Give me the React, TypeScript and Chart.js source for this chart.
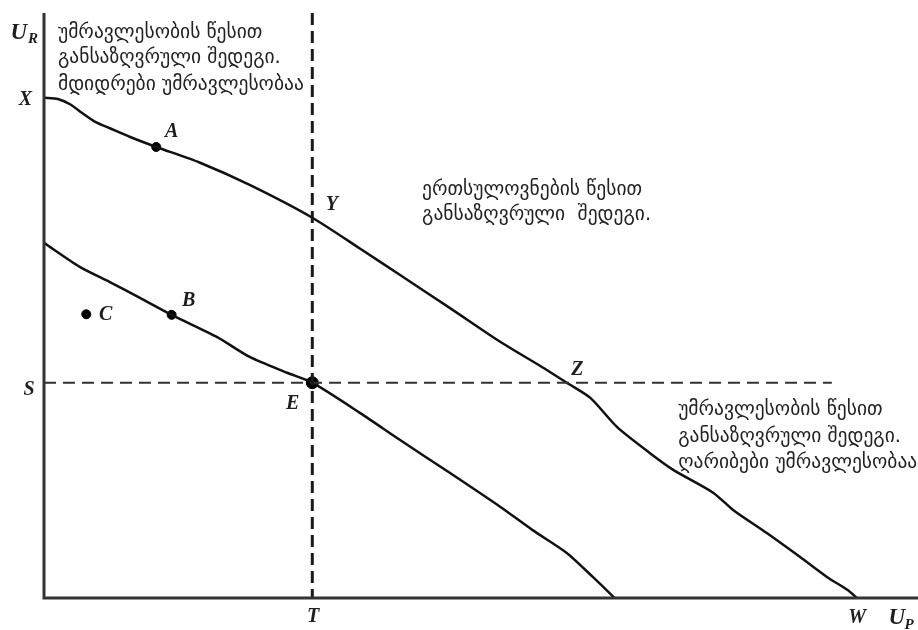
import React, { useEffect, useRef } from "react";
import { Chart, registerables } from "chart.js";

Chart.register(...registerables);

// Upper utility-possibility curve (X – A – Y – Z – W)
const upperX = [0, 1.7, 3.2, 4.7, 6.3, 8.1, 10.6, 13.8, 19.2, 25.3, 33.0, 38.9, 43.8, 49.9, 56.1, 61.0, 64.3, 67.2, 70.5, 74.5, 77.4, 82.3, 84.8, 88.9, 93.0, 96.3, 98.8, 100];
const upperY = [85.5, 85.3, 84.4, 82.9, 81.4, 80.3, 78.8, 77.1, 74.4, 70.6, 65.0, 59.7, 55.2, 49.6, 43.8, 39.7, 36.8, 34.2, 29.2, 24.8, 21.9, 18.0, 15.0, 11.1, 7.0, 3.6, 1.4, 0];

// Lower curve (through B and E)
const lowerX = [0, 4.4, 8.1, 11.8, 15.7, 21.3, 25.3, 29.9, 33.0, 38.9, 43.8, 49.9, 56.1, 60.1, 64.3, 67.5, 70.2];
const lowerY = [60.7, 56.6, 54.0, 51.3, 48.4, 44.6, 41.2, 38.5, 36.8, 31.6, 27.0, 21.4, 15.6, 11.6, 7.7, 3.6, 0];

// Marked points
const pointNames = ["A", "B", "C", "E"];
const pointX = [13.8, 15.7, 5.2, 33.0];
const pointY = [77.1, 48.4, 48.5, 36.8];

// Reference levels
const levelT = 33.0; // U_P of point T / E
const levelS = 36.8; // U_R of point S / E
const axisTop = 100;
const axisRight = 107.5;
const dashRight = 96.9;

// Text
const blockRich = ["უმრავლესობის წესით", "განსაზღვრული შედეგი.", "მდიდრები უმრავლესობაა"];
const blockUnanimity = ["ერთსულოვნების წესით", "განსაზღვრული  შედეგი."];
const blockPoor = ["უმრავლესობის წესით", "განსაზღვრული შედეგი.", "ღარიბები უმრავლესობაა"];

const letterLabels = [
  { t: "X", x: -2.3, y: 85.1 },
  { t: "A", x: 15.7, y: 79.7 },
  { t: "Y", x: 35.4, y: 67.2 },
  { t: "B", x: 17.8, y: 50.8 },
  { t: "C", x: 7.6, y: 48.4 },
  { t: "S", x: -1.85, y: 35.6 },
  { t: "E", x: 30.6, y: 33.2 },
  { t: "Z", x: 65.6, y: 39.0 },
  { t: "T", x: 33.1, y: -3.25 },
  { t: "W", x: 100, y: -3.4 },
];

const textBlocks = [
  { lines: blockRich, x: 1.72, y: [96.6, 92.3, 87.7] },
  { lines: blockUnanimity, x: 46.5, y: [69.7, 65.5] },
  { lines: blockPoor, x: 78.0, y: [32.1, 27.5, 23.1] },
];

const toPts = (xs: number[], ys: number[]) => xs.map((x, i) => ({ x, y: ys[i] }));

const labelPlugin = {
  id: "labels",
  afterDatasetsDraw(chart: any) {
    const { ctx, scales } = chart;
    const px = (v: number) => scales.x.getPixelForValue(v);
    const py = (v: number) => scales.y.getPixelForValue(v);
    ctx.save();
    ctx.fillStyle = "#1e1e1e";
    ctx.textAlign = "center";
    ctx.textBaseline = "middle";
    ctx.font = "italic bold 20px 'Liberation Serif', serif";
    letterLabels.forEach((l) => ctx.fillText(l.t, px(l.x), py(l.y)));
    // axis titles with subscripts
    ctx.font = "italic bold 23px 'Liberation Serif', serif";
    ctx.fillText("U", px(-3.1), py(96.6));
    ctx.fillText("U", px(104.9), py(-3.4));
    ctx.font = "italic bold 15px 'Liberation Serif', serif";
    ctx.fillText("R", px(-1.35), py(95.5));
    ctx.fillText("P", px(106.4), py(-4.6));
    // Georgian text blocks
    ctx.textAlign = "left";
    ctx.fillStyle = "#222";
    ctx.font = "19.5px 'DejaVu Sans', sans-serif";
    textBlocks.forEach((b) => b.lines.forEach((s, i) => ctx.fillText(s, px(b.x), py(b.y[i]))));
    ctx.restore();
  },
};

export default function App() {
  const ref = useRef<HTMLCanvasElement>(null);
  useEffect(() => {
    if (!ref.current) return;
    const line = (data: any[], extra: any = {}) => ({
      data,
      showLine: true,
      pointRadius: 0,
      borderColor: "#111",
      borderWidth: 2.5,
      tension: 0.25,
      clip: false,
      ...extra,
    });
    const chart = new Chart(ref.current, {
      type: "scatter",
      data: {
        datasets: [
          line([{ x: 0, y: axisTop }, { x: 0, y: 0 }, { x: axisRight, y: 0 }], { borderColor: "#333", borderWidth: 3, tension: 0 }),
          line([{ x: levelT, y: axisTop }, { x: levelT, y: 0 }], { borderDash: [12, 6], borderWidth: 3, tension: 0, borderColor: "#1a1a1a" }),
          line([{ x: 0, y: levelS }, { x: dashRight, y: levelS }], { borderDash: [12, 7], borderWidth: 2, tension: 0, borderColor: "#333" }),
          line(toPts(upperX, upperY)),
          line(toPts(lowerX, lowerY)),
          {
            data: toPts(pointX, pointY),
            showLine: false,
            pointRadius: pointNames.map((n) => (n === "E" ? 6 : 4.5)),
            backgroundColor: "#000",
            borderColor: "#000",
            clip: false,
          },
        ],
      },
      options: {
        animation: false,
        responsive: false,
        layout: { padding: 0, autoPadding: false },
        plugins: { legend: { display: false }, tooltip: { enabled: false } },
        scales: {
          x: { type: "linear", display: false, min: -5.412, max: 107.5 },
          y: { type: "linear", display: false, min: -5.47, max: 102.22 },
        },
      },
      plugins: [labelPlugin],
    });
    return () => chart.destroy();
  }, []);
  return (
    <div style={{ position: "fixed", left: 0, top: 0, width: 918, height: 630, background: "#fff" }}>
      <canvas ref={ref} width={918} height={630} />
    </div>
  );
}
